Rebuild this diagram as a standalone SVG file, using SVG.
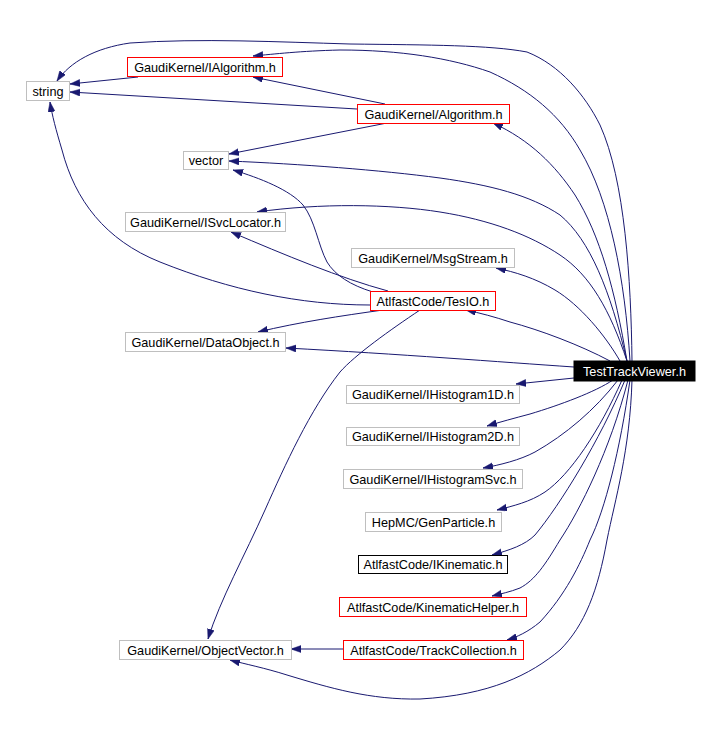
<svg xmlns="http://www.w3.org/2000/svg" width="718" height="731" viewBox="0 0 718 731">
<style>
.n rect{fill:#fff;stroke-width:1}
.g rect{stroke:#bfbfbf}
.r rect{stroke:#ff0000}
.b rect{stroke:#000}
.n text{font-family:"Liberation Sans",Arial,sans-serif;font-size:12.7px;text-anchor:middle;fill:#000}
#edges path{fill:none;stroke:#191970;stroke-width:1;marker-end:url(#ah)}
</style>
<defs>
<marker id="ah" markerUnits="userSpaceOnUse" markerWidth="11" markerHeight="8" refX="10" refY="3.5" orient="auto">
<path d="M0,0 L10,3.5 L0,7 z" fill="#191970" stroke="#191970" stroke-width="0.5"/>
</marker>
</defs>
<rect width="718" height="731" fill="#fff"/>
<g id="edges">
<path d="M632,361 C631,280 625,180 600,125 C585,95 560,65 527,52 C490,45 430,45 350,44 C280,42 200,38 130,43 C95,48 70,62 57,81"/>
<path d="M630,361 C625,280 610,200 580,150 C560,115 530,90 490,72 C450,58 400,50 340,50 C300,51 275,54 253,56"/>
<path d="M627,361 C615,290 600,235 575,195 C555,165 530,140 493,123"/>
<path d="M627,361 C610,290 590,240 560,215 C530,195 490,185 440,178 C380,170 300,164 229,161"/>
<path d="M627,361 C610,310 590,275 560,255 C530,235 490,220 440,212 C390,204 320,203 257,212"/>
<path d="M620,361 C605,335 580,305 555,290 C535,278 515,272 496,268"/>
<path d="M610,361 C580,345 540,330 510,322 C495,317 480,313 466,310"/>
<path d="M574,367 C500,362 400,354 286,348"/>
<path d="M574,378 L516,384"/>
<path d="M613,380 C595,392 560,405 530,414 C515,418 500,422 487,426"/>
<path d="M618,380 C595,410 565,435 535,452 C520,460 500,465 483,468"/>
<path d="M622,380 C600,430 570,475 545,492 C530,502 513,506 497,510"/>
<path d="M625,380 C600,440 560,505 535,535 C525,545 510,550 492,555"/>
<path d="M628,380 C610,450 580,510 560,540 C545,565 535,580 520,588 C510,592 500,594 492,596"/>
<path d="M630,380 C620,450 605,510 590,540 C580,565 565,595 540,622 C528,632 517,637 507,640"/>
<path d="M632,380 C630,450 615,500 607,540 C598,590 585,625 560,650 C530,675 490,695 420,699 C370,700 330,688 287,675 C265,668 245,664 230,660"/>
<path d="M420,310 C390,330 355,355 340,372 C310,410 285,465 265,510 C245,555 220,600 208,639"/>
<path d="M343,649 L291,649"/>
<path d="M383,310 C340,316 300,322 258,332"/>
<path d="M388,291 C340,278 285,255 231,232"/>
<path d="M373,292 C350,285 335,275 327,262 C318,245 315,220 303,205 C290,190 260,178 233,170"/>
<path d="M370,305 C300,305 230,290 160,262 C105,240 75,200 62,150 C56,130 52,115 50,102"/>
<path d="M138,77 L70,84"/>
<path d="M357,109 L70,92"/>
<path d="M385,104 L253,77"/>
<path d="M387,123 L229,154"/>
</g>
<g id="n_string" class="n g"><rect x="26.5" y="81.5" width="43" height="19"/><text x="48" y="95.5">string</text></g>
<g id="n_ialgorithm" class="n r"><rect x="127.5" y="57.5" width="155" height="19"/><text x="205" y="71.5">GaudiKernel/IAlgorithm.h</text></g>
<g id="n_algorithm" class="n r"><rect x="357.5" y="104.5" width="152" height="19"/><text x="433.5" y="118.5">GaudiKernel/Algorithm.h</text></g>
<g id="n_vector" class="n g"><rect x="183.5" y="151.5" width="45" height="18"/><text x="206" y="165">vector</text></g>
<g id="n_isvclocator" class="n g"><rect x="125.5" y="212.5" width="160" height="19"/><text x="205.5" y="226.5">GaudiKernel/ISvcLocator.h</text></g>
<g id="n_msgstream" class="n g"><rect x="351.5" y="248.5" width="163" height="19"/><text x="433" y="262.5">GaudiKernel/MsgStream.h</text></g>
<g id="n_tesio" class="n r"><rect x="370.5" y="291.5" width="125" height="19"/><text x="433" y="305.5">AtlfastCode/TesIO.h</text></g>
<g id="n_dataobject" class="n g"><rect x="125.5" y="332.5" width="160" height="19"/><text x="205.5" y="346.5">GaudiKernel/DataObject.h</text></g>
<g id="n_ttv" class="n"><rect x="574" y="361" width="121" height="20" fill="#000" style="fill:#000;stroke:#000"/><text x="634.5" y="375.5" style="fill:#fff">TestTrackViewer.h</text></g>
<g id="n_ihist1d" class="n g"><rect x="346.5" y="385.5" width="173" height="18"/><text x="433" y="399">GaudiKernel/IHistogram1D.h</text></g>
<g id="n_ihist2d" class="n g"><rect x="346.5" y="427.5" width="173" height="18"/><text x="433" y="441">GaudiKernel/IHistogram2D.h</text></g>
<g id="n_ihistsvc" class="n g"><rect x="343.5" y="469.5" width="179" height="19"/><text x="433" y="483.5">GaudiKernel/IHistogramSvc.h</text></g>
<g id="n_genparticle" class="n g"><rect x="365.5" y="512.5" width="136" height="19"/><text x="433.5" y="526.5">HepMC/GenParticle.h</text></g>
<g id="n_ikinematic" class="n b"><rect x="358.5" y="555.5" width="149" height="18"/><text x="433" y="569">AtlfastCode/IKinematic.h</text></g>
<g id="n_kinhelper" class="n r"><rect x="339.5" y="597.5" width="187" height="19"/><text x="433" y="611.5">AtlfastCode/KinematicHelper.h</text></g>
<g id="n_trackcoll" class="n r"><rect x="343.5" y="640.5" width="180" height="19"/><text x="433.5" y="654.5">AtlfastCode/TrackCollection.h</text></g>
<g id="n_objvector" class="n g"><rect x="119.5" y="640.5" width="172" height="19"/><text x="205.5" y="654.5">GaudiKernel/ObjectVector.h</text></g>
</svg>
